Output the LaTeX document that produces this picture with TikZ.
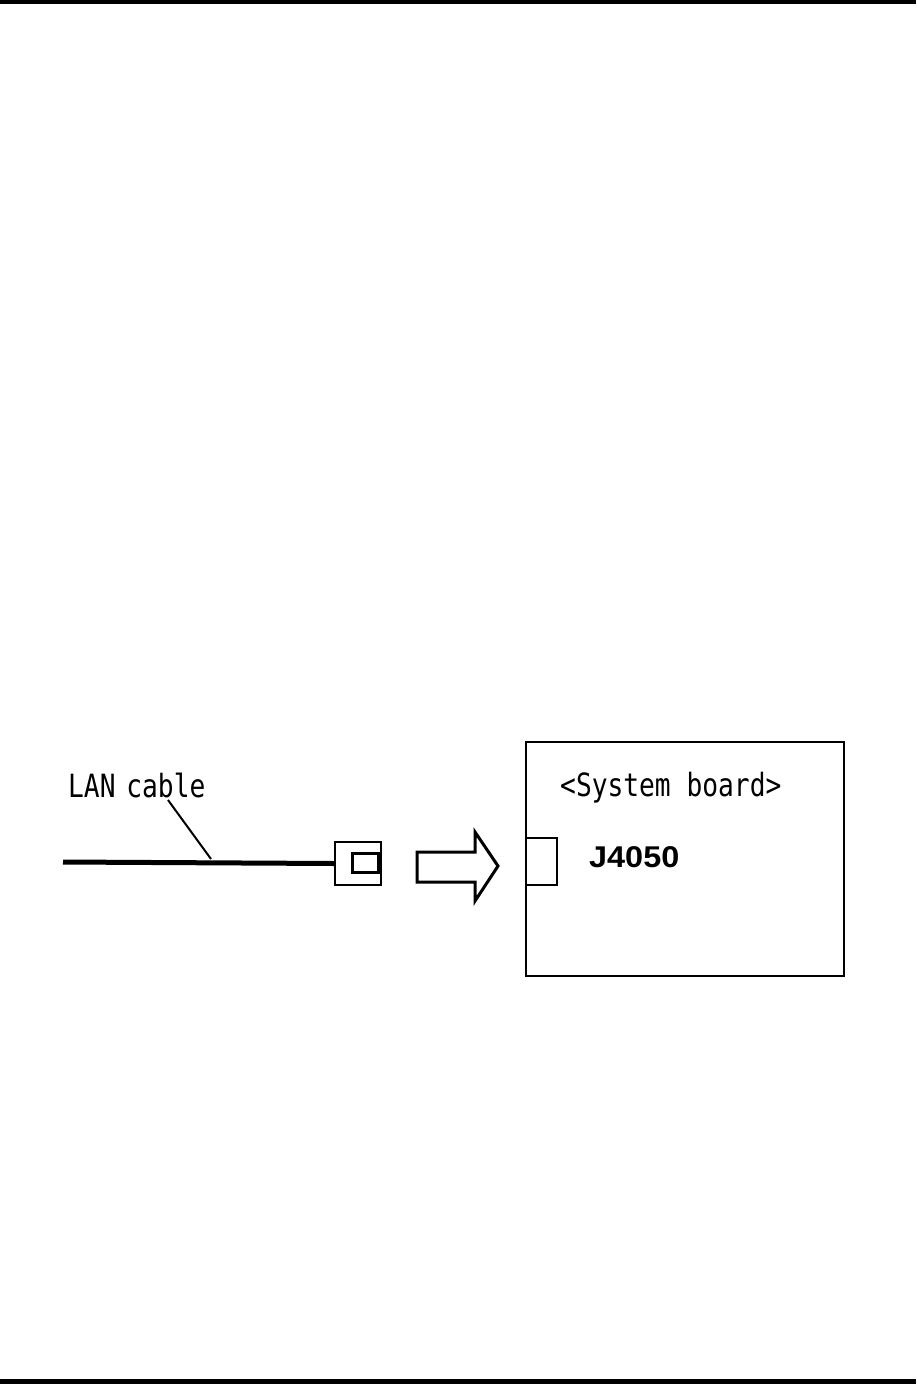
\documentclass[tikz,border=0pt]{standalone}
\usepackage{fontspec}
\newfontfamily\gothic[FakeStretch=0.82]{DejaVu Sans Mono}
\newfontfamily\boldsans[FakeStretch=1.08]{Liberation Sans}
\begin{document}
\begin{tikzpicture}[x=1pt,y=-1pt,
  outline/.style={draw=black,line width=2.4pt},
  gtext/.style={inner sep=0pt,anchor=base west,font=\gothic\fontsize{32}{32}\selectfont},
  jtext/.style={inner sep=0pt,anchor=base west,font=\boldsans\bfseries\fontsize{30}{30}\selectfont}]
\useasboundingbox (0,0) rectangle (916,1384);
% page rules
\fill[black] (0,0) rectangle (916,4);
\fill[black] (0,1379) rectangle (916,1384);
% cable and plug
\coordinate (cablestart) at (63,862);
\node[outline,line width=2.2pt,minimum width=46pt,minimum height=43pt,inner sep=0pt] (plug) at (358,863.5) {};
\draw[line width=5pt] (cablestart) -- (plug.west);
\node[draw=black,line width=3pt,minimum width=26pt,minimum height=19pt,inner sep=0pt] (plugin) at (365.5,862.5) {};
% label and leader
\node[gtext] (lanlabel) at (68,797) {LAN\hspace{-5pt} cable};
\coordinate (leadtop) at (168,800);
\coordinate (leadbot) at (211,859);
\draw[line width=2pt] (leadtop) -- (leadbot);
% block arrow
\draw[line width=3pt,line join=miter] (417,852) -- (475,852) -- (475,832) -- (498,866) -- (475,901) -- (475,882) -- (417,882) -- cycle;
% system board
\node[outline,minimum width=318pt,minimum height=234pt,inner sep=0pt] (board) at (685,859) {};
\node[draw=black,line width=2pt,minimum width=31pt,minimum height=47pt,inner sep=0pt] (jack) at (541.5,861.5) {};
\node[gtext] (boardlabel) at (560,796) {<System board>};
\node[jtext] (jlabel) at (589,867) {J4050};
\end{tikzpicture}
\end{document}
